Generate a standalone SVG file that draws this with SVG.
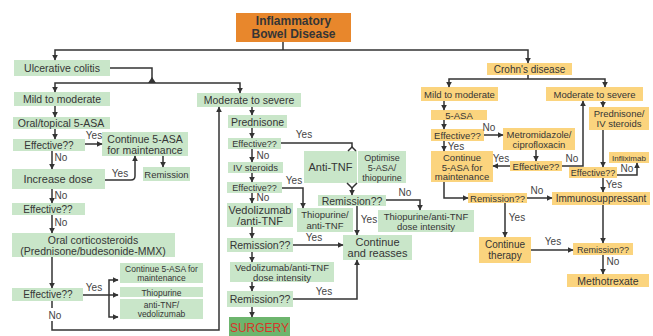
<svg xmlns="http://www.w3.org/2000/svg" width="653" height="336" viewBox="0 0 653 336">
<style>
text{font-family:"Liberation Sans",Arial,sans-serif;text-anchor:middle;fill:#353535}
.g rect{fill:#c9e6c9}
.o rect{fill:#fbd47e}
.c path,.c polyline{fill:none;stroke:#333;stroke-width:1.5}
.c .a{marker-end:url(#ar)}
.c .b{marker-start:url(#ar);marker-end:url(#ar)}
.l{font-size:10px;fill:#444}
</style>
<defs>
<marker id="ar" viewBox="0 0 10 10" refX="9" refY="5" markerWidth="6" markerHeight="6" orient="auto-start-reverse" markerUnits="userSpaceOnUse"><path d="M0,0 L10,5 L0,10 z" fill="#333"/></marker>
</defs>
<rect width="653" height="336" fill="#fff"/>

<g id="title"><rect x="236" y="13" width="115" height="29" fill="#e8872c"/><text x="293.5" y="25" font-size="12" font-weight="bold" fill="#2a1a0a">Inflammatory</text><text x="293.5" y="38" font-size="12" font-weight="bold" fill="#2a1a0a">Bowel Disease</text></g>

<g class="g">
<g id="uc"><rect x="14" y="60" width="96" height="16"/><text x="62" y="72" font-size="10.5">Ulcerative colitis</text></g>
<g id="ucmild"><rect x="14" y="92" width="96" height="14"/><text x="62" y="103" font-size="10.5">Mild to moderate</text></g>
<g id="oral5asa"><rect x="13" y="117" width="97" height="12"/><text x="61" y="127" font-size="10.5">Oral/topical 5-ASA</text></g>
<g id="eff1"><rect x="13" y="139" width="72" height="12"/><text x="49" y="149" font-size="10">Effective??</text></g>
<g id="cont5asa"><rect x="102" y="132" width="86" height="24"/><text x="145" y="142.5" font-size="10.5">Continue 5-ASA</text><text x="145" y="153.5" font-size="10.5">for maintenance</text></g>
<g id="remission1"><rect x="143" y="167" width="47" height="14"/><text x="166.5" y="177.5" font-size="9.5">Remission</text></g>
<g id="incdose"><rect x="12" y="169" width="93" height="20"/><text x="58" y="183" font-size="11">Increase dose</text></g>
<g id="eff2"><rect x="12" y="203" width="73" height="12"/><text x="48" y="213" font-size="10">Effective??</text></g>
<g id="oralcort"><rect x="12" y="233" width="163" height="24"/><text x="93" y="243.5" font-size="10.5">Oral corticosteroids</text><text x="93" y="255" font-size="10.5">(Prednisone/budesonide-MMX)</text></g>
<g id="eff3"><rect x="12" y="288" width="71" height="13"/><text x="48" y="298" font-size="10">Effective??</text></g>
<g id="c5asa2"><rect x="120" y="263" width="83" height="20"/><text x="161.5" y="271.5" font-size="8.5">Continue 5-ASA for</text><text x="161.5" y="281" font-size="8.5">maintenance</text></g>
<g id="thio"><rect x="120" y="287" width="83" height="10"/><text x="161.5" y="295.5" font-size="8.5">Thiopurine</text></g>
<g id="antitnf1"><rect x="120" y="299" width="83" height="20"/><text x="161.5" y="307.5" font-size="8.5">anti-TNF/</text><text x="161.5" y="317" font-size="8.5">vedolizumab</text></g>
<g id="ucsevere"><rect x="197" y="93" width="104" height="14"/><text x="249" y="104" font-size="10.5">Moderate to severe</text></g>
<g id="pred"><rect x="228" y="115" width="59" height="13"/><text x="257.5" y="125.5" font-size="10.5">Prednisone</text></g>
<g id="eff4"><rect x="228" y="138" width="53" height="11"/><text x="254.5" y="147" font-size="9">Effective??</text></g>
<g id="ivster"><rect x="228" y="162" width="55" height="11"/><text x="255.5" y="171" font-size="9.5">IV steroids</text></g>
<g id="eff5"><rect x="227" y="182" width="55" height="11"/><text x="254.5" y="191" font-size="9">Effective??</text></g>
<g id="vedo"><rect x="227" y="203" width="66" height="24"/><text x="260" y="213.5" font-size="11">Vedolizumab</text><text x="260" y="224.5" font-size="11">/anti-TNF</text></g>
<g id="thioanti"><rect x="297" y="208" width="56" height="24"/><text x="325" y="218" font-size="9.5">Thiopurine/</text><text x="325" y="229" font-size="9.5">anti-TNF</text></g>
<g id="antitnf2"><rect x="304" y="151" width="53" height="32"/><text x="330.5" y="171" font-size="11">Anti-TNF</text></g>
<g id="optimise"><rect x="358" y="151" width="48" height="32"/><text x="382" y="160.5" font-size="9">Optimise</text><text x="382" y="171" font-size="9">5-ASA/</text><text x="382" y="181" font-size="9">thiopurine</text></g>
<g id="remmid"><rect x="318" y="195" width="68" height="11"/><text x="352" y="204.5" font-size="10.5">Remission??</text></g>
<g id="thiodose"><rect x="378" y="210" width="96" height="22"/><text x="426" y="219.5" font-size="9.5">Thiopurine/anti-TNF</text><text x="426" y="229.5" font-size="9.5">dose intensity</text></g>
<g id="contreas"><rect x="343" y="235" width="69" height="25"/><text x="377.5" y="245.5" font-size="11">Continue</text><text x="377.5" y="257" font-size="11">and reasses</text></g>
<g id="rem2"><rect x="227" y="238" width="66" height="14"/><text x="260" y="248.5" font-size="10.5">Remission??</text></g>
<g id="vedodose"><rect x="230" y="262" width="104" height="20"/><text x="282" y="271" font-size="9.5">Vedolizumab/anti-TNF</text><text x="282" y="280.5" font-size="9.5">dose intensity</text></g>
<g id="rem3"><rect x="227" y="291" width="66" height="16"/><text x="260" y="302.5" font-size="10.5">Remission??</text></g>
</g>
<g id="surgery"><rect x="229" y="317" width="61" height="19" fill="#6db56d"/><text x="259.5" y="331.5" font-size="12" fill="#d8352a" style="fill:#d8352a">SURGERY</text></g>

<g class="o">
<g id="crohn"><rect x="487" y="63" width="85" height="12"/><text x="529.5" y="72.5" font-size="10">Crohn's disease</text></g>
<g id="cdmild"><rect x="421" y="87" width="77" height="14"/><text x="459.5" y="97.5" font-size="9.5">Mild to moderate</text></g>
<g id="cdsevere"><rect x="546" y="87" width="97" height="14"/><text x="594.5" y="97.5" font-size="9.5">Moderate to severe</text></g>
<g id="cd5asa"><rect x="431" y="110" width="56" height="10"/><text x="459" y="118.5" font-size="9.5">5-ASA</text></g>
<g id="cdeff1"><rect x="431" y="129" width="53" height="12"/><text x="457.5" y="138.5" font-size="9.5">Effective??</text></g>
<g id="metro"><rect x="503" y="128" width="72" height="22"/><text x="539" y="137.5" font-size="9.5">Metromidazole/</text><text x="539" y="147.5" font-size="9.5">ciprofloxacin</text></g>
<g id="cdeff2"><rect x="510" y="161" width="52" height="10"/><text x="536" y="169.5" font-size="9.5">Effective??</text></g>
<g id="cdcont"><rect x="431" y="151" width="62" height="31"/><text x="462" y="160.5" font-size="9.5">Continue</text><text x="462" y="170.5" font-size="9.5">5-ASA for</text><text x="462" y="180" font-size="9.5">maintenance</text></g>
<g id="cdrem1"><rect x="468" y="193" width="59" height="10"/><text x="497.5" y="201.5" font-size="9.5">Remission??</text></g>
<g id="immuno"><rect x="552" y="192" width="98" height="13"/><text x="601" y="202" font-size="10">Immunosuppressant</text></g>
<g id="conttherapy"><rect x="479" y="237" width="52" height="26"/><text x="505" y="247.5" font-size="10">Continue</text><text x="505" y="258.5" font-size="10">therapy</text></g>
<g id="cdrem2"><rect x="573" y="243" width="60" height="12"/><text x="603" y="252.5" font-size="9">Remission??</text></g>
<g id="mtx"><rect x="567" y="274" width="82" height="13"/><text x="608" y="284.5" font-size="10.5">Methotrexate</text></g>
<g id="cdpred"><rect x="589" y="107" width="60" height="23"/><text x="619" y="116.5" font-size="9.5">Prednisone/</text><text x="619" y="127" font-size="9.5">IV steroids</text></g>
<g id="cdeff3"><rect x="569" y="167" width="48" height="11"/><text x="593" y="175.5" font-size="9">Effective??</text></g>
<g id="inflix"><rect x="609" y="152" width="40" height="11"/><text x="629" y="160.5" font-size="8">Infliximab</text></g>
</g>

<g id="connectors" class="c">
<path d="M283,42 V50"/>
<path class="b" d="M55,60 V50 H528 V63"/>
<path d="M110,68 H152 V83"/>
<polygon points="148,83 152,77 156,83" fill="#333"/>
<path class="b" d="M55,92 V83 H240 V93"/>
<path class="a" d="M55,106 V117"/>
<path class="a" d="M55,129 V139"/>
<path class="a" d="M85,144 H102"/>
<path class="a" d="M163,156 V167"/>
<path class="a" d="M52,151 V169"/>
<path class="a" d="M105,180 H131 Q135,180 135,176 V156"/>
<path class="a" d="M52,189 V203"/>
<path class="a" d="M52,215 V233"/>
<path class="a" d="M52,257 V288"/>
<path class="a" d="M83,295 H118"/>
<path class="b" d="M118,280 H109 V317 H118"/>
<path d="M52,301 V308"/>
<path class="a" d="M52,321 V330 H219 V107"/>
<path class="a" d="M252,107 V115"/>
<path class="a" d="M252,128 V138"/>
<path d="M281,143 H352 V147"/>
<polyline points="348,151 352,147 356,151"/>
<path class="a" d="M252,149 V162"/>
<path class="a" d="M252,173 V182"/>
<path class="a" d="M282,188 H303 V208"/>
<path class="a" d="M252,193 V203"/>
<path d="M347,183 L352,188 L357,183"/>
<path class="a" d="M352,188 V195"/>
<path class="a" d="M386,200 H420 V210"/>
<path class="a" d="M357,206 V235"/>
<path class="a" d="M252,227 V238"/>
<path class="a" d="M293,245 H343"/>
<path class="a" d="M252,252 V262"/>
<path class="a" d="M252,282 V291"/>
<path class="a" d="M293,299 H357 V260"/>
<path class="a" d="M252,307 V317"/>
<path d="M528,75 V79"/>
<path class="b" d="M449,87 V79 H605 V87"/>
<path class="a" d="M444,101 V110"/>
<path class="a" d="M444,120 V129"/>
<path class="a" d="M484,135 H503"/>
<path class="a" d="M444,141 V151"/>
<path class="a" d="M536,150 V161"/>
<path class="a" d="M510,166 H493"/>
<path class="a" d="M562,166 H583 V101"/>
<path class="a" d="M444,182 V198 H468"/>
<path class="a" d="M527,198 H552"/>
<path class="a" d="M505,203 V237"/>
<path class="a" d="M531,250 H573"/>
<path class="a" d="M603,205 V243"/>
<path class="a" d="M603,255 V274"/>
<path class="a" d="M603,101 V107"/>
<path class="a" d="M603,130 V167"/>
<path class="a" d="M617,175 H637 V163"/>
<path class="a" d="M603,178 V192"/>
</g>

<g id="labels">
<text class="l" x="94" y="139">Yes</text>
<text class="l" x="61" y="161">No</text>
<text class="l" x="120" y="177">Yes</text>
<text class="l" x="61" y="199">No</text>
<text class="l" x="61" y="226">No</text>
<text class="l" x="94" y="291">Yes</text>
<text class="l" x="55" y="319">No</text>
<text class="l" x="304" y="138">Yes</text>
<text class="l" x="263" y="159">No</text>
<text class="l" x="294" y="184">Yes</text>
<text class="l" x="263" y="201">No</text>
<text class="l" x="405" y="196">No</text>
<text class="l" x="369" y="223">Yes</text>
<text class="l" x="314" y="241">Yes</text>
<text class="l" x="324" y="295">Yes</text>
<text class="l" x="489" y="131">No</text>
<text class="l" x="456" y="150">Yes</text>
<text class="l" x="501" y="162">Yes</text>
<text class="l" x="572" y="162">No</text>
<text class="l" x="537" y="194">No</text>
<text class="l" x="517" y="221">Yes</text>
<text class="l" x="553" y="245">Yes</text>
<text class="l" x="613" y="265">No</text>
<text class="l" x="627" y="172">No</text>
<text class="l" x="614" y="188">Yes</text>
</g>
</svg>
